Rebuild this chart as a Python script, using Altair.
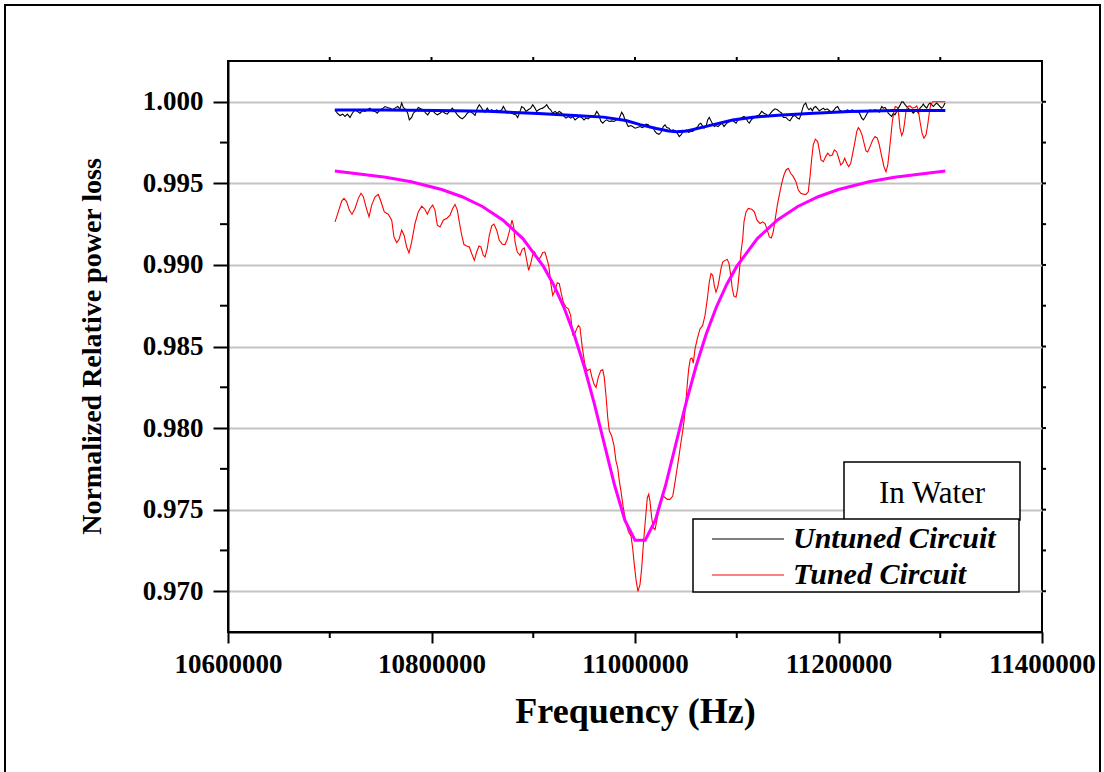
import altair as alt
import pandas as pd

# ---------------------------------------------------------------------------
# Measured data: frequency in kHz, normalized relative power loss
# ---------------------------------------------------------------------------
untuned_khz = [
    10705.2, 10707.4, 10710.1, 10712.7, 10715.0, 10717.3, 10719.9, 10722.2, 10724.8, 10727.1,
    10729.7, 10732.0, 10734.6, 10736.9, 10739.6, 10741.8, 10744.5, 10746.7, 10749.4, 10751.6,
    10754.3, 10756.6, 10759.2, 10761.5, 10764.1, 10766.8, 10769.0, 10770.7, 10772.3, 10774.9,
    10776.6, 10778.2, 10780.5, 10782.1, 10784.8, 10787.0, 10789.4, 10791.9, 10794.3, 10796.3,
    10798.5, 10801.2, 10803.4, 10805.7, 10808.4, 10810.6, 10813.3, 10815.5, 10818.2, 10820.4,
    10823.1, 10825.4, 10828.0, 10830.3, 10832.9, 10835.2, 10837.8, 10840.5, 10842.8, 10845.0,
    10847.0,
    10848.3, 10850.3, 10852.6, 10854.8, 10856.8, 10859.2, 10861.4, 10864.1, 10866.6, 10869.0,
    10870.6, 10872.5, 10874.5, 10876.5, 10878.8, 10881.1, 10883.0, 10884.7, 10887.0, 10888.6,
    10890.9, 10892.9, 10895.1, 10897.5, 10899.5, 10901.7, 10903.4, 10905.4, 10907.3, 10909.3,
    10911.5, 10913.2, 10915.2, 10917.1, 10919.1, 10921.4, 10923.6, 10925.6, 10928.0, 10930.2,
    10932.2, 10934.5, 10936.8, 10938.8, 10941.0, 10943.3, 10945.3, 10947.6, 10949.9, 10951.8,
    10954.1, 10956.5, 10958.4, 10960.7, 10962.4, 10964.3, 10966.3, 10968.3, 10970.5, 10972.2,
    10974.7, 10977.1, 10979.4, 10982.0, 10984.6,
    10986.9, 10988.5, 10990.2, 10991.8, 10993.4, 10995.8, 10997.7, 11000.0, 11002.3, 11004.9,
    11007.2, 11009.1, 11010.8, 11013.1, 11014.7, 11016.4, 11018.0, 11019.7, 11021.3, 11023.6,
    11025.6, 11027.8, 11029.5, 11031.2, 11033.4, 11035.4, 11037.6, 11039.6, 11041.6, 11043.5,
    11045.2, 11046.9, 11048.8, 11050.8, 11052.8, 11054.7, 11056.7, 11058.3, 11059.9, 11061.6,
    11063.2, 11064.6, 11066.1, 11067.8, 11069.8, 11071.4, 11073.0, 11074.7, 11076.4, 11077.9,
    11079.6, 11081.6, 11083.5, 11085.5, 11087.5, 11089.4, 11091.4, 11093.4, 11095.3, 11097.3,
    11099.3, 11101.2, 11103.2, 11105.2, 11107.1, 11109.1, 11110.8, 11112.3, 11114.3, 11116.3,
    11118.6, 11120.6, 11122.2,
    11124.5, 11126.8, 11128.7, 11131.0, 11133.3, 11135.3, 11137.6, 11139.9, 11141.8, 11144.2,
    11145.8, 11148.4, 11150.7, 11152.3, 11155.0, 11157.2, 11159.5, 11161.5, 11163.1, 11164.8,
    11166.1, 11167.8, 11169.3, 11171.0, 11172.7, 11174.3, 11175.9, 11177.6, 11179.6, 11181.1,
    11182.8, 11185.1, 11186.7, 11189.0, 11191.0, 11193.3, 11195.6, 11197.5, 11199.2, 11200.8,
    11203.1, 11204.7, 11207.1, 11209.0, 11211.3, 11213.3, 11215.2, 11217.2, 11219.5, 11221.1,
    11222.8, 11224.4, 11226.0, 11227.7, 11229.2, 11231.0, 11233.2, 11235.9, 11238.1, 11240.1,
    11242.5, 11244.0, 11245.7, 11247.4, 11248.9, 11250.6, 11252.3, 11253.9, 11255.5, 11257.2,
    11258.8, 11260.4, 11262.1, 11263.7, 11265.4, 11267.0, 11268.6, 11270.3, 11271.9, 11273.5,
    11275.2, 11276.9, 11278.4, 11280.1, 11281.8, 11283.3, 11285.0, 11286.7, 11288.3, 11289.9,
    11291.6, 11293.2, 11294.8, 11296.5, 11298.1, 11299.7, 11301.4, 11303.0, 11304.7,
]
untuned_loss = [
    0.99951, 0.99930, 0.99916, 0.99924, 0.99910, 0.99924, 0.99904, 0.99930, 0.99951, 0.99941,
    0.99930, 0.99945, 0.99941, 0.99951, 0.99961, 0.99945, 0.99941, 0.99930, 0.99951, 0.99957,
    0.99971, 0.99965, 0.99961, 0.99951, 0.99961, 0.99971, 0.99957, 0.99992, 0.99965, 0.99951,
    0.99930, 0.99889, 0.99904, 0.99930, 0.99945, 0.99965, 0.99957, 0.99951, 0.99930, 0.99920,
    0.99941, 0.99945, 0.99930, 0.99920, 0.99930, 0.99941, 0.99930, 0.99924, 0.99945, 0.99961,
    0.99941, 0.99920, 0.99904, 0.99895, 0.99910, 0.99930, 0.99941, 0.99930, 0.99916, 0.99961,
    0.99982,
    0.99971, 0.99951, 0.99936, 0.99961, 0.99941, 0.99951, 0.99941, 0.99951, 0.99941, 0.99951,
    0.99971, 0.99951, 0.99930, 0.99941, 0.99930, 0.99924, 0.99920, 0.99904, 0.99941, 0.99971,
    0.99961, 0.99941, 0.99951, 0.99961, 0.99982, 0.99961, 0.99941, 0.99951, 0.99957, 0.99961,
    0.99971, 0.99982, 0.99961, 0.99951, 0.99930, 0.99941, 0.99930, 0.99941, 0.99930, 0.99910,
    0.99900, 0.99910, 0.99900, 0.99910, 0.99889, 0.99900, 0.99910, 0.99904, 0.99889, 0.99900,
    0.99895, 0.99910, 0.99910, 0.99920, 0.99941, 0.99924, 0.99883, 0.99869, 0.99883, 0.99889,
    0.99879, 0.99883, 0.99879, 0.99889, 0.99900,
    0.99936, 0.99920, 0.99889, 0.99869, 0.99848, 0.99854, 0.99848, 0.99838, 0.99842, 0.99848,
    0.99842, 0.99848, 0.99863, 0.99859, 0.99842, 0.99848, 0.99838, 0.99818, 0.99807, 0.99801,
    0.99813, 0.99848, 0.99859, 0.99842, 0.99838, 0.99822, 0.99828, 0.99822, 0.99807, 0.99787,
    0.99797, 0.99813, 0.99822, 0.99828, 0.99813, 0.99818, 0.99818, 0.99828, 0.99838, 0.99848,
    0.99863, 0.99869, 0.99854, 0.99838, 0.99848, 0.99889, 0.99904, 0.99883, 0.99863, 0.99848,
    0.99854, 0.99848, 0.99859, 0.99869, 0.99848, 0.99863, 0.99875, 0.99879, 0.99889, 0.99879,
    0.99869, 0.99889, 0.99895, 0.99904, 0.99910, 0.99900, 0.99879, 0.99869, 0.99889, 0.99900,
    0.99910, 0.99916, 0.99920,
    0.99941, 0.99930, 0.99924, 0.99910, 0.99930, 0.99945, 0.99957, 0.99951, 0.99941, 0.99930,
    0.99904, 0.99904, 0.99889, 0.99883, 0.99910, 0.99916, 0.99900, 0.99895, 0.99920, 0.99961,
    0.99982, 0.99992, 0.99965, 0.99951, 0.99961, 0.99945, 0.99965, 0.99971, 0.99957, 0.99945,
    0.99951, 0.99961, 0.99951, 0.99957, 0.99945, 0.99936, 0.99951, 0.99965, 0.99971, 0.99951,
    0.99941, 0.99936, 0.99945, 0.99951, 0.99941, 0.99951, 0.99945, 0.99936, 0.99941, 0.99924,
    0.99900, 0.99889, 0.99904, 0.99924, 0.99941, 0.99951, 0.99945, 0.99951, 0.99945, 0.99936,
    0.99971, 0.99961, 0.99965, 0.99951, 0.99930, 0.99920, 0.99910, 0.99930, 0.99920, 0.99941,
    0.99961, 0.99978, 1.00000, 0.99998, 0.99982, 0.99971, 0.99961, 0.99951, 0.99941, 0.99930,
    0.99941, 0.99951, 0.99930, 0.99961, 0.99971, 0.99986, 0.99971, 0.99961, 0.99982, 0.99992,
    0.99982, 0.99971, 0.99982, 0.99992, 0.99982, 0.99971, 0.99961, 0.99971, 0.99992,
]

tuned_khz = [
    10705.2, 10708.4, 10711.7, 10714.0, 10716.7, 10719.2, 10721.9, 10724.8, 10728.1, 10730.7,
    10733.0, 10735.6, 10738.6, 10741.2, 10744.5, 10747.7, 10750.4, 10753.6, 10757.5, 10760.9,
    10763.1, 10765.8, 10768.1, 10770.7, 10773.0, 10775.6, 10777.9, 10780.5, 10783.8, 10787.0,
    10790.4, 10793.6, 10795.9, 10798.5, 10801.2, 10803.4, 10805.7, 10808.4, 10811.6, 10815.5,
    10818.2, 10820.8, 10823.1, 10825.4, 10827.3, 10829.7, 10831.9, 10834.6, 10837.2, 10839.5,
    10842.1, 10844.4, 10846.7, 10848.6, 10850.9, 10852.6, 10854.8, 10856.8, 10859.2, 10861.4,
    10864.1, 10866.6, 10869.6, 10872.2, 10874.5, 10877.2, 10879.1, 10880.8, 10882.1, 10884.3,
    10887.0, 10889.2, 10891.2, 10893.6, 10895.5, 10897.5, 10899.5, 10901.4, 10903.4, 10905.4,
    10907.3, 10909.3, 10911.5, 10913.2, 10915.2, 10917.1, 10919.1, 10921.4, 10923.6, 10925.6,
    10927.6, 10929.5, 10932.2, 10934.5, 10936.8, 10938.8, 10940.7, 10942.7, 10944.3, 10945.9,
    10948.2, 10950.9, 10953.1, 10955.8, 10957.7, 10959.7, 10961.7, 10963.9, 10966.3, 10968.3,
    10969.8, 10971.5, 10973.2, 10974.7, 10977.1, 10979.4, 10981.3, 10983.0, 10984.6, 10986.2,
    10988.5, 10990.9, 10993.4, 10996.1, 10997.7, 10999.3, 11001.0, 11002.9, 11004.9, 11006.6,
    11008.2, 11010.1, 11012.1, 11013.5, 11014.7, 11016.4, 11018.0, 11019.7, 11021.3, 11023.3,
    11025.6, 11027.8, 11029.8, 11031.7, 11034.4, 11037.1, 11039.0, 11041.0, 11043.0, 11044.9,
    11046.9, 11048.2, 11049.8, 11051.4, 11052.8, 11054.4, 11056.0, 11057.3, 11059.0, 11061.2,
    11063.9, 11066.5, 11068.8, 11071.1, 11073.0, 11074.7, 11076.4, 11077.9, 11079.6, 11081.3,
    11082.9, 11084.5, 11086.2, 11088.5, 11090.7, 11092.4, 11094.1, 11095.6, 11097.3, 11099.3,
    11100.9, 11102.5, 11104.2, 11105.9, 11107.1, 11109.1, 11111.4, 11114.7, 11117.3, 11119.9,
    11122.9, 11125.5, 11127.8, 11130.0, 11132.0, 11134.0, 11135.9, 11137.9, 11139.9, 11141.8,
    11144.2, 11146.4, 11148.4, 11150.7, 11153.0, 11155.6, 11158.2, 11160.5, 11162.9, 11165.4,
    11168.1, 11170.3, 11172.0, 11173.7, 11175.2, 11177.2, 11179.6, 11181.1, 11182.8, 11185.1,
    11187.4, 11189.4, 11191.7, 11193.9, 11195.9, 11198.2, 11200.2, 11202.2, 11204.1, 11206.1,
    11208.1, 11210.0, 11212.0, 11214.0, 11216.2, 11217.9, 11219.5, 11221.1, 11223.1, 11225.1,
    11227.0, 11228.7, 11231.0, 11233.6, 11235.9, 11238.1, 11240.1, 11242.5, 11244.7, 11246.7,
    11248.4, 11249.9, 11251.6, 11252.9, 11254.5, 11255.8, 11257.8, 11259.2, 11260.4, 11262.1,
    11263.7, 11265.1, 11266.3, 11268.0, 11270.3, 11272.5, 11275.2, 11276.9, 11278.4, 11280.1,
    11282.1, 11284.0, 11286.0, 11287.7, 11289.2, 11290.6, 11292.6, 11305.0,
]
tuned_loss = [
    0.99264, 0.99325, 0.99391, 0.99408, 0.99387, 0.99336, 0.99311, 0.99346, 0.99408, 0.99439,
    0.99418, 0.99356, 0.99295, 0.99367, 0.99418, 0.99432, 0.99387, 0.99325, 0.99311, 0.99274,
    0.99172, 0.99137, 0.99157, 0.99213, 0.99182, 0.99110, 0.99073, 0.99141, 0.99254, 0.99325,
    0.99360, 0.99340, 0.99311, 0.99346, 0.99367, 0.99336, 0.99244, 0.99233, 0.99274, 0.99288,
    0.99305, 0.99346, 0.99371, 0.99336, 0.99264, 0.99182, 0.99125, 0.99116, 0.99110, 0.99070,
    0.99028, 0.99079, 0.99116, 0.99110, 0.99059, 0.99049, 0.99100, 0.99182, 0.99239, 0.99250,
    0.99213, 0.99151, 0.99127, 0.99125, 0.99157, 0.99223, 0.99274, 0.99233, 0.99141, 0.99079,
    0.99059, 0.99096, 0.99104, 0.99028, 0.98967, 0.99008, 0.99063, 0.99079, 0.99042, 0.99033,
    0.99049, 0.99076, 0.99079, 0.99042, 0.98998, 0.98895, 0.98813, 0.98844, 0.98891, 0.98885,
    0.98824, 0.98772, 0.98741, 0.98731, 0.98690, 0.98571, 0.98578, 0.98608, 0.98629, 0.98618,
    0.98495, 0.98383, 0.98352, 0.98362, 0.98311, 0.98270, 0.98249, 0.98311, 0.98352, 0.98358,
    0.98311, 0.98198, 0.98065, 0.97983, 0.97952, 0.97891, 0.97798, 0.97757, 0.97675, 0.97614,
    0.97511, 0.97429, 0.97368, 0.97337, 0.97265, 0.97163, 0.97071, 0.96999, 0.97040, 0.97142,
    0.97286, 0.97429, 0.97573, 0.97594, 0.97552, 0.97450, 0.97388, 0.97378, 0.97429, 0.97491,
    0.97552, 0.97583, 0.97573, 0.97563, 0.97563, 0.97583, 0.97655, 0.97737, 0.97819, 0.97901,
    0.97983, 0.98044, 0.98147, 0.98270, 0.98364, 0.98424, 0.98429, 0.98398, 0.98485, 0.98547,
    0.98608, 0.98629, 0.98690, 0.98793, 0.98895, 0.98947, 0.98936, 0.98875, 0.98833, 0.98864,
    0.98916, 0.98977, 0.99018, 0.99028, 0.99034, 0.99008, 0.98936, 0.98854, 0.98807, 0.98803,
    0.98854, 0.98956, 0.99079, 0.99162, 0.99264, 0.99325, 0.99346, 0.99342, 0.99325, 0.99274,
    0.99254, 0.99264, 0.99254, 0.99213, 0.99172, 0.99165, 0.99202, 0.99285, 0.99367, 0.99428,
    0.99500, 0.99551, 0.99582, 0.99592, 0.99562, 0.99541, 0.99510, 0.99459, 0.99439, 0.99434,
    0.99432, 0.99448, 0.99541, 0.99654, 0.99736, 0.99771, 0.99756, 0.99705, 0.99643, 0.99633,
    0.99664, 0.99685, 0.99668, 0.99674, 0.99705, 0.99694, 0.99654, 0.99613, 0.99623, 0.99654,
    0.99623, 0.99602, 0.99623, 0.99685, 0.99756, 0.99817, 0.99842, 0.99828, 0.99797, 0.99746,
    0.99699, 0.99692, 0.99725, 0.99766, 0.99787, 0.99777, 0.99736, 0.99664, 0.99602, 0.99571,
    0.99613, 0.99694, 0.99797, 0.99879, 0.99940, 0.99971, 0.99965, 0.99920, 0.99838, 0.99793,
    0.99817, 0.99879, 0.99940, 0.99971, 0.99975, 0.99961, 0.99965, 0.99975, 0.99951, 0.99879,
    0.99808, 0.99777, 0.99797, 0.99859, 0.99931, 0.99982, 1.00000, 1.00000,
]

# Lorentzian fits (sampled)
untuned_fit_khz = [10705, 10755, 10805, 10855, 10905, 10945, 10969, 10991, 11005, 11021,
                   11033, 11041, 11051, 11066, 11081, 11096, 11116, 11141, 11171, 11211,
                   11255, 11305]
untuned_fit_loss = [0.99950, 0.99949, 0.99947, 0.99942, 0.99928, 0.99914, 0.99906, 0.99885,
                    0.99860, 0.99836, 0.99821, 0.99817, 0.99821, 0.99843, 0.99866, 0.99888,
                    0.99905, 0.99918, 0.99928, 0.99940, 0.99946, 0.99947]

tuned_fit_khz = [10705, 10755, 10780, 10810, 10830, 10850, 10870, 10890, 10910, 10920,
                 10930, 10940, 10950, 10960, 10970, 10980, 10990, 11000, 11010, 11020,
                 11030, 11040, 11050, 11060, 11070, 11080, 11090, 11100, 11120, 11140,
                 11160, 11180, 11200, 11230, 11255, 11305]
tuned_fit_loss = [0.99576, 0.99538, 0.99510, 0.99462, 0.99418, 0.99358, 0.99276, 0.99160,
                  0.98991, 0.98879, 0.98742, 0.98577, 0.98379, 0.98150, 0.97899, 0.97648,
                  0.97436, 0.97313, 0.97313, 0.97436, 0.97648, 0.97899, 0.98150, 0.98379,
                  0.98577, 0.98742, 0.98879, 0.98991, 0.99160, 0.99276, 0.99358, 0.99418,
                  0.99462, 0.99510, 0.99538, 0.99576]

# Axis ticks
x_ticks = [10600000, 10800000, 11000000, 11200000, 11400000]
x_minor = [10700000, 10900000, 11100000, 11300000]
x_top = [10700000, 10800000, 10900000, 11000000, 11100000, 11200000, 11300000]
y_ticks = [0.970, 0.975, 0.980, 0.985, 0.990, 0.995, 1.000]
y_minor = [0.9725, 0.9775, 0.9825, 0.9875, 0.9925, 0.9975]
y_right = sorted(y_ticks + y_minor)

legend_labels = ["Untuned Circuit", "Tuned Circuit"]
legend_colors = ["black", "red"]
annotation = "In Water"

# ---------------------------------------------------------------------------
W, H = 814, 571
FONT = "Liberation Serif"

xscale = alt.Scale(domain=[10600000, 11400000], nice=False, zero=False)
yscale = alt.Scale(domain=[0.9675, 1.0025], nice=False, zero=False)

x_axis = alt.Axis(
    values=x_ticks, format="d", title="Frequency (Hz)", grid=False,
    tickSize=11, labelPadding=8, labelFontSize=27,
    titleX=407, titleY=90, titleBaseline="alphabetic", titleFontSize=36,
)
y_axis = alt.Axis(
    values=y_ticks, format=".3f", title="Normalized Relative power loss",
    grid=True, gridColor="#c4c4c4", gridWidth=2,
    tickSize=15, labelPadding=10, labelFontSize=27,
    titleX=-128, titleY=285, titleBaseline="alphabetic", titleFontSize=28,
)
X_ENC = alt.X("freq:Q", scale=xscale, axis=x_axis, title="Frequency (Hz)")
Y_ENC = alt.Y("loss:Q", scale=yscale, axis=y_axis, title="Normalized Relative power loss")


def series(khz, loss):
    return pd.DataFrame({"freq": [k * 1000 for k in khz], "loss": loss})


untuned = series(untuned_khz, untuned_loss)
tuned = series(tuned_khz, tuned_loss)
untuned_fit = series(untuned_fit_khz, untuned_fit_loss)
tuned_fit = series(tuned_fit_khz, tuned_fit_loss)

untuned_line = alt.Chart(untuned).mark_line(color="black", strokeWidth=1.1).encode(
    x=X_ENC, y=Y_ENC, order="freq:Q"
)
tuned_line = alt.Chart(tuned).mark_line(color="red", strokeWidth=1.1).encode(
    x=X_ENC, y=Y_ENC, order="freq:Q"
)
untuned_fit_line = alt.Chart(untuned_fit).mark_line(color="#0000ff", strokeWidth=3).encode(
    x=X_ENC, y=Y_ENC, order="freq:Q"
)
tuned_fit_line = alt.Chart(tuned_fit).mark_line(color="#ff00ff", strokeWidth=3).encode(
    x=X_ENC, y=Y_ENC, order="freq:Q"
)

# minor and mirrored tick marks
tick_style = dict(color="black", strokeWidth=2)
left_minor = alt.Chart(pd.DataFrame({"loss": y_minor})).mark_rule(**tick_style).encode(
    y=Y_ENC, x=alt.value(-8), x2=alt.value(0)
)
right_ticks = alt.Chart(pd.DataFrame({"loss": y_right})).mark_rule(**tick_style).encode(
    y=Y_ENC, x=alt.value(W), x2=alt.value(W + 4)
)
bottom_minor = alt.Chart(pd.DataFrame({"freq": x_minor})).mark_rule(**tick_style).encode(
    x=X_ENC, y=alt.value(H), y2=alt.value(H + 6)
)
top_ticks = alt.Chart(pd.DataFrame({"freq": x_top})).mark_rule(**tick_style).encode(
    x=X_ENC, y=alt.value(-4), y2=alt.value(0)
)

one = pd.DataFrame({"k": [0]})

# outer page frame
page_frame = alt.Chart(one).mark_rect(
    fill="white", fillOpacity=0, stroke="black", strokeWidth=2
).encode(x=alt.value(-223), x2=alt.value(872), y=alt.value(-56), y2=alt.value(740))

# "In Water" annotation box
water_box = alt.Chart(one).mark_rect(fill="white", stroke="black", strokeWidth=1.5).encode(
    x=alt.value(616), x2=alt.value(792), y=alt.value(401), y2=alt.value(459)
)
water_text = alt.Chart(pd.DataFrame({"t": [annotation]})).mark_text(
    font=FONT, fontSize=31, align="center", baseline="alphabetic", color="black"
).encode(x=alt.value(704), y=alt.value(442), text="t:N")

# legend
legend_box = alt.Chart(one).mark_rect(fill="white", stroke="black", strokeWidth=1.5).encode(
    x=alt.value(465), x2=alt.value(791), y=alt.value(458), y2=alt.value(531)
)
legend_parts = [legend_box]
for i, (lab, col) in enumerate(zip(legend_labels, legend_colors)):
    yy = 478 + 36 * i
    legend_parts.append(
        alt.Chart(one).mark_rule(color=col, strokeWidth=1.2).encode(
            x=alt.value(484), x2=alt.value(556), y=alt.value(yy)
        )
    )
    legend_parts.append(
        alt.Chart(pd.DataFrame({"t": [lab]})).mark_text(
            font=FONT, fontSize=30, fontStyle="italic", fontWeight="bold",
            align="left", baseline="middle", color="black",
        ).encode(x=alt.value(565), y=alt.value(yy), text="t:N")
    )

chart = alt.layer(
    page_frame,
    untuned_line,
    tuned_line,
    untuned_fit_line,
    tuned_fit_line,
    left_minor,
    right_ticks,
    bottom_minor,
    top_ticks,
    water_box,
    water_text,
    *legend_parts,
).properties(
    width=W,
    height=H,
    autosize="none",
    padding={"left": 228, "top": 61, "right": 62, "bottom": 140},
    background="white",
).configure_view(
    stroke="black", strokeWidth=2
).configure_axis(
    labelFont=FONT, labelFontWeight="bold", labelColor="black",
    titleFont=FONT, titleFontWeight="bold", titleColor="black",
    domainColor="black", domainWidth=2, tickColor="black", tickWidth=2,
    labelFlush=False, labelOverlap=False,
)

chart.save("out.html", embed_options={"renderer": "svg", "actions": False})
